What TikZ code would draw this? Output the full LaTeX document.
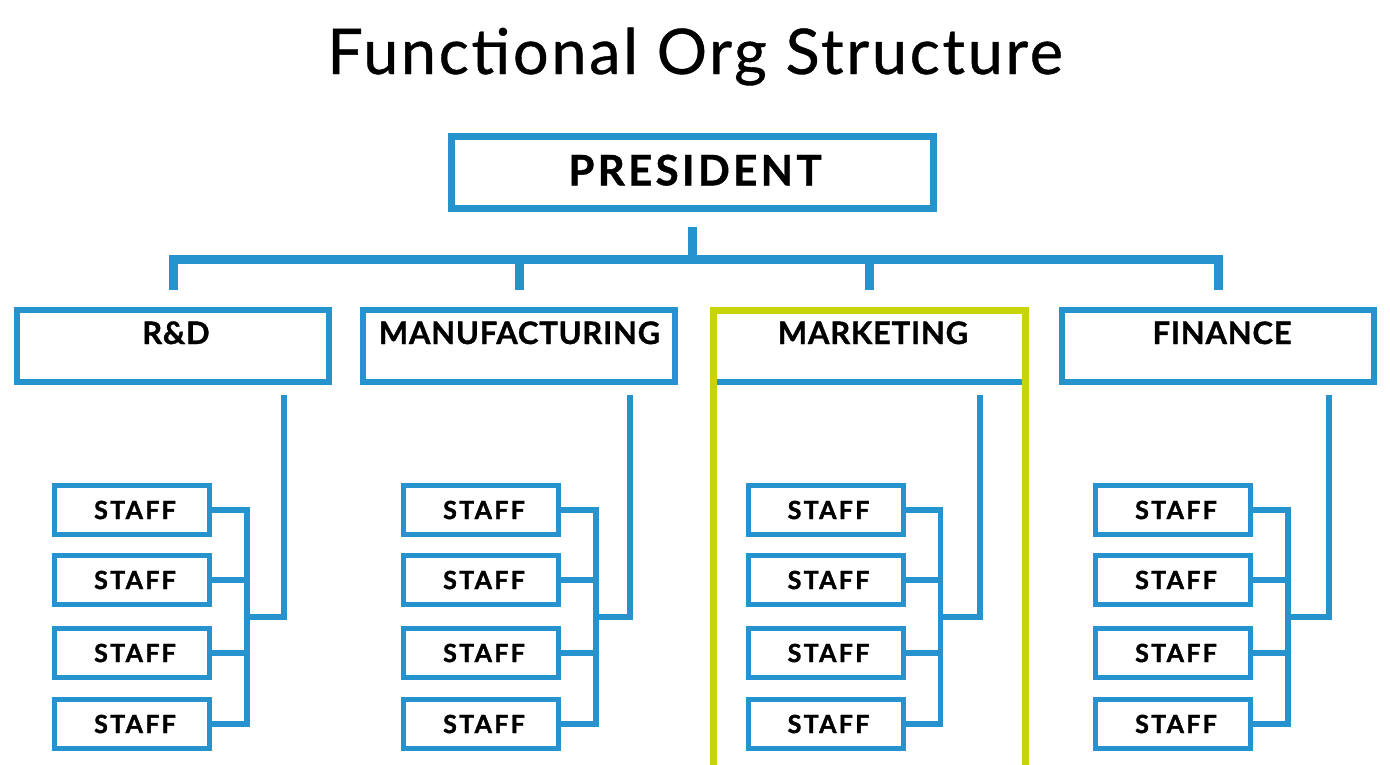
\documentclass[tikz,border=0pt]{standalone}
\usepackage{fontspec}
\setmainfont{Lato}
\usetikzlibrary{calc}
\definecolor{blu}{RGB}{38,146,206}
\definecolor{hlc}{RGB}{200,212,10}
\begin{document}
\begin{tikzpicture}[x=1pt,y=-1pt,
 titlefont/.style={font=\fontsize{63}{63}\selectfont\addfontfeatures{LetterSpace=4.2,FakeBold=0.6}, inner sep=0pt},
 pbox/.style={draw=blu,line width=7pt,minimum width=482pt,minimum height=72pt,inner sep=0pt,text depth=5pt,font=\fontsize{42}{42}\selectfont\bfseries\addfontfeatures{LetterSpace=8,FakeBold=1}},
 dbox/.style={draw=blu,line width=6pt,minimum width=312pt,minimum height=72pt,inner sep=0pt,text height=22pt,text depth=26pt,font=\fontsize{31}{31}\selectfont\bfseries\addfontfeatures{LetterSpace=2.5,FakeBold=1}},
 sbox/.style={draw=blu,line width=5pt,minimum width=155pt,minimum height=49pt,inner sep=0pt,font=\fontsize{25}{25}\selectfont\bfseries\addfontfeatures{LetterSpace=9,FakeBold=1.5}},
 topline/.style={draw=blu,line width=9pt},
 subline/.style={draw=blu,line width=5.5pt},
 hl/.style={draw=hlc,line width=7pt}]
\useasboundingbox (0,0) rectangle (1390,764);
\fill[white] (0,0) rectangle (1390,764);
\begin{scope}
\clip (0,0) rectangle (1390,764);
\node[titlefont, anchor=base] (title) at (695,74) {Functional Org Structure};
\node[pbox] (pres) at (692.5,172.5) {\hspace*{5pt}PRESIDENT};
\coordinate (bus) at (693,259);
\foreach \n/\dx/\sx/\lab in {rd/173/132/{\hspace*{6pt}R\&D}, mf/519/481/{\hspace*{1pt}MANUFACTURING}, mk/869/825.5/{\hspace*{8pt}MARKETING}, fi/1218/1173/{\hspace*{8pt}FINANCE}}{
  \node[dbox] (\n) at (\dx,346) {\lab};
  \foreach \i/\y in {1/510,2/580,3/653,4/724}
    \node[sbox] (\n s\i) at (\sx,\y) {\hspace*{6pt}STAFF};
  \coordinate (\n j) at (\sx+115,617);
  \coordinate (\n v) at (\dx+111,617);
  \draw[subline] ($(\n.south -| \n v)+(0,10)$) -- (\n v) -- (\n j);
  \draw[subline] (\n s1.east) -| (\n s4.east -| \n j) -- (\n s4.east);
  \draw[subline] (\n s2.east) -- (\n s2.east -| \n j);
  \draw[subline] (\n s3.east) -- (\n s3.east -| \n j);
  \draw[topline] (\n.north |- bus) -- ($(\n.north)+(0,-17)$);
}
\draw[topline, line cap=rect] (rd.north |- bus) -- (fi.north |- bus);
\draw[topline] ($(pres.south)+(0,15)$) -- (pres.south |- bus);
\draw[hl] (713.5,775) -- (713.5,310.5) -- (1025.5,310.5) -- (1025.5,775);
\end{scope}
\end{tikzpicture}
\end{document}
